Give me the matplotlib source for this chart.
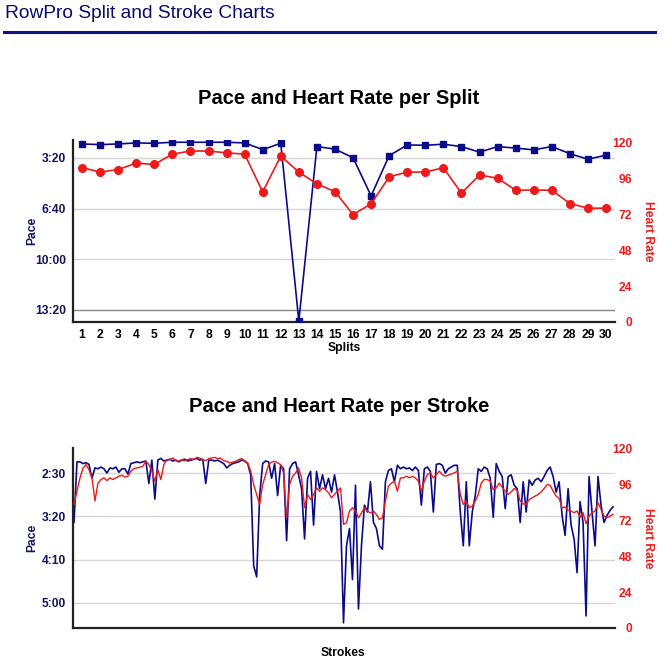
import numpy as np
import matplotlib
matplotlib.use('Agg')
import matplotlib.pyplot as plt
import matplotlib.ticker as mtick
from matplotlib.lines import Line2D

plt.rcParams['font.family'] = ['Liberation Sans', 'DejaVu Sans']

NAVY = '#0b0b8a'
RED = '#ee1a1a'
LABEL_NAVY = '#14145e'

# per split data
splits = list(range(1, 31))
pace_split = [144.6, 147.3, 144.6, 140.6, 142, 137.9, 137.9, 137.9, 137.9, 140.6,
              167, 142, 845, 155, 165, 199, 350, 191, 148.5, 149.7,
              145.7, 155, 177, 155, 161, 168, 155, 183, 205, 189]
hr_split = [103.5, 100.5, 102.2, 106.5, 105.6, 112.5, 114.6, 114.6, 113.4, 112.5,
            87.2, 111.2, 100.5, 92.6, 87.4, 72, 79.2, 97.3, 100.5, 100.5,
            103.4, 86.4, 98.5, 96.4, 88.4, 88.4, 88.4, 79.4, 76.3, 76.3]

# per stroke data (sampled every 3rd stroke)
strokes = np.arange(0, 541, 3)
pace_stroke = [
    207, 137, 137, 139, 138, 140, 156, 144, 145, 143, 145, 150, 144, 145, 143, 149,
    145, 145, 151, 139, 138, 137, 138, 137, 136, 162, 135, 180, 135, 133, 136, 135,
    134, 136, 135, 137, 135, 134, 136, 135, 134, 133, 135, 134, 162, 135,
    135, 136, 135, 137, 139, 144, 141, 139, 138, 137, 135, 136, 139, 152, 257, 270,
    176, 139, 136, 137, 156, 139, 176, 141, 145, 228, 145, 139, 137, 152, 168, 226,
    156, 148, 210, 148, 168, 152, 168, 156, 172, 152, 172, 195,
    323, 234, 214, 273, 164, 307, 234, 187, 195, 160, 207, 214, 234, 238, 160, 147,
    145, 160, 141, 145, 143, 145, 144, 147, 143, 147, 187, 145, 143, 148, 195, 140,
    139, 141, 150, 145, 143, 141, 141, 195, 234, 160, 234, 195, 176,
    145, 148, 143, 145, 156, 201, 139, 148, 154, 191, 154, 152, 164, 168, 207, 160,
    195, 158, 164, 158, 156, 160, 154, 147, 143, 154, 172, 160, 199, 222, 168, 210,
    226, 265, 183, 207, 315, 154, 195, 234, 154, 187, 207, 199, 193, 189]
hr_stroke = [
    82.7, 91.6, 100.5, 107, 109.4, 106, 100.5, 85, 97, 99.4, 100.5, 98.7, 100.5, 99.4,
    100.5, 101.6, 102.3, 101, 101.6, 105, 106.7, 107.2, 107.6, 108.3, 111.6, 109.4,
    105, 98.3, 106, 99.4, 109.4, 112.7, 112.7, 113.8, 112, 111.6, 112.7, 112, 112.7,
    113.4, 112.7, 114.2, 113.8, 112.7, 112, 113.4,
    113.8, 114.2, 113.4, 113.8, 112, 111.6, 110.5, 111, 111.6, 112.7, 113.4, 112,
    110.5, 105, 96, 89.4, 82.7, 96, 102.7, 109.4, 111, 111.6, 110.5, 109.4, 103.8,
    73.8, 96, 101.6, 103.8, 107.2, 100.5, 80.5, 89.4, 86, 89.4, 93.8, 91.6, 93.8,
    92.7, 90.5, 87.2, 89.4, 91.6, 93.8,
    69.4, 70.5, 78.3, 80.5, 78.3, 73.8, 77, 80.5, 78.3, 77, 78.3, 76, 72.7, 73.8, 85,
    95, 97, 98.3, 91.6, 100.5, 100.5, 101.6, 100.5, 101.6, 100.5, 98.3, 91.6, 98.3,
    102.7, 103.8, 100.5, 102.7, 105, 102.7, 101.6, 102.3, 103.1, 103.8, 105, 89.4,
    82.7, 85, 80.5, 81.6, 85,
    89.4, 97, 99.4, 99.4, 98.3, 92.7, 93.8, 97, 94.2, 91.6, 89.4, 91.1, 93.4, 92, 85,
    83.1, 82.7, 86, 87.2, 88.3, 89.4, 91.1, 93.4, 96, 95.6, 91.6, 88.3, 86.7, 80.5,
    81, 78.7, 78.3, 77.2, 78.3, 74.2, 77.2, 69.8, 75, 77.2, 78.3, 83.8, 79.4, 75,
    73.8, 75, 76]

pace_ticks_split = [200, 400, 600, 800]
pace_ticks_stroke = [150, 200, 250, 300]
hr_ticks = [0, 24, 48, 72, 96, 120]


def mmss(v, pos=None):
    v = int(round(v))
    return '%d:%02d' % (v // 60, v % 60)


def style_axes(ax1, ax2, pace_ticks):
    for s in ['top', 'right']:
        ax1.spines[s].set_visible(False)
    for s in ['left', 'bottom']:
        ax1.spines[s].set_color('#222222')
        ax1.spines[s].set_linewidth(1.6)
    for s in ax2.spines.values():
        s.set_visible(False)
    ax1.set_yticks(pace_ticks)
    ax1.yaxis.set_major_formatter(mtick.FuncFormatter(mmss))
    ax1.tick_params(axis='y', length=0, pad=5, labelsize=8.7, labelcolor=LABEL_NAVY)
    for tl in ax1.get_yticklabels():
        tl.set_fontweight('bold')
    ax1.yaxis.grid(True, color='#d6d6d6', lw=1)
    ax1.set_axisbelow(True)
    ax2.set_yticks(hr_ticks)
    ax2.tick_params(axis='y', length=0, pad=12.5, labelsize=8.7, labelcolor=RED)
    for tl in ax2.get_yticklabels():
        tl.set_fontweight('bold')
        tl.set_ha('right')


fig = plt.figure(figsize=(6.7, 6.68), dpi=100)
W, H = 670.0, 668.0

fig.text(5 / W, 1 - 14 / H, 'RowPro Split and Stroke Charts', fontsize=13.8,
         color='#0a0a6e', ha='left', va='center')
fig.add_artist(Line2D([4 / W, 655 / W], [1 - 31.5 / H] * 2, color='#10108a', lw=2.2))

# ---- split chart
ax1 = fig.add_axes([73 / W, 1 - 322 / H, 542 / W, 182 / H])
ax2 = ax1.twinx()
ax1.plot(splits, pace_split, color=NAVY, lw=1.2, marker='s', ms=5, zorder=3)
ax2.plot(splits, hr_split, color=RED, lw=1.2, marker='o', ms=5.5)
ax1.set_xlim(0.5, 30.5)
ax1.set_ylim(849, 129)
ax2.set_ylim(0, 122)
style_axes(ax1, ax2, pace_ticks_split)
ax1.get_ygridlines()[-1].set_color('#888888')
ax1.set_xticks(splits)
ax1.tick_params(axis='x', length=0, pad=5, labelsize=8.7, labelcolor='black')
for tl in ax1.get_xticklabels():
    tl.set_fontweight('bold')

fig.text(339 / W, 1 - 99 / H, 'Pace and Heart Rate per Split', fontsize=14.5,
         fontweight='bold', ha='center', va='center')
fig.text(344 / W, 1 - 348.5 / H, 'Splits', fontsize=8.7, fontweight='bold',
         ha='center', va='center')
fig.text(32 / W, 1 - 231 / H, 'Pace', fontsize=8.7, fontweight='bold', color=LABEL_NAVY,
         rotation=90, ha='center', va='center')
fig.text(648 / W, 1 - 231 / H, 'Heart Rate', fontsize=8.7, fontweight='bold', color=RED,
         rotation=270, ha='center', va='center')

# ---- stroke chart
ax3 = fig.add_axes([73 / W, 1 - 628 / H, 542 / W, 180 / H])
ax4 = ax3.twinx()
ax3.plot(strokes, pace_stroke, color=NAVY, lw=1.2)
ax4.plot(strokes, hr_stroke, color=RED, lw=1.0)
ax3.set_xlim(-1, 542)
ax3.set_ylim(329, 121)
ax4.set_ylim(0, 120.5)
style_axes(ax3, ax4, pace_ticks_stroke)
ax3.set_xticks([])

fig.text(339 / W, 1 - 406 / H, 'Pace and Heart Rate per Stroke', fontsize=14.5,
         fontweight='bold', ha='center', va='center')
fig.text(343 / W, 1 - 653 / H, 'Strokes', fontsize=8.7, fontweight='bold',
         ha='center', va='center')
fig.text(32 / W, 1 - 538 / H, 'Pace', fontsize=8.7, fontweight='bold', color=LABEL_NAVY,
         rotation=90, ha='center', va='center')
fig.text(648 / W, 1 - 538 / H, 'Heart Rate', fontsize=8.7, fontweight='bold', color=RED,
         rotation=270, ha='center', va='center')

plt.savefig('out.png', dpi=100)
